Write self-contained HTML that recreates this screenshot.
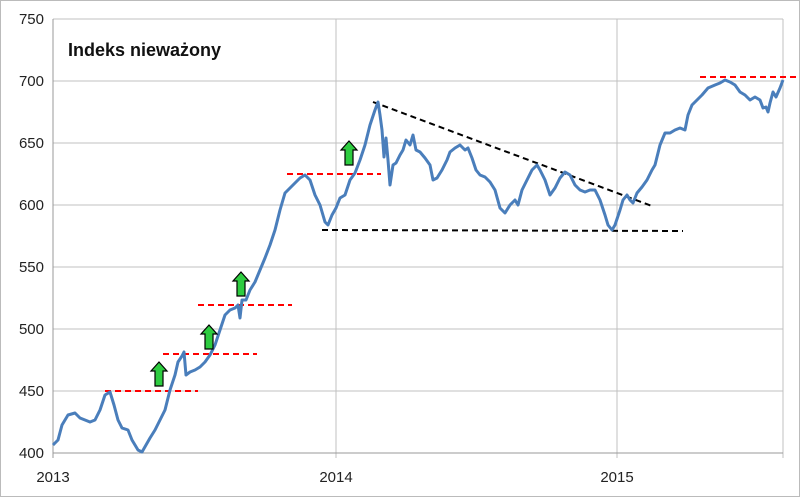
<!DOCTYPE html><html><head><meta charset="utf-8"><style>body{margin:0;background:#fff}svg{display:block}</style></head><body>
<svg width="800" height="497" viewBox="0 0 800 497" font-family="Liberation Sans, sans-serif">
<rect x="0.5" y="0.5" width="799" height="496" fill="#fff" stroke="#bbb"/>
<g stroke="#c0c0c0" stroke-width="1">
<line x1="53" y1="19" x2="783" y2="19"/><line x1="53" y1="81" x2="783" y2="81"/><line x1="53" y1="143" x2="783" y2="143"/><line x1="53" y1="205" x2="783" y2="205"/><line x1="53" y1="267" x2="783" y2="267"/><line x1="53" y1="329" x2="783" y2="329"/><line x1="53" y1="391" x2="783" y2="391"/>
<line x1="336" y1="19" x2="336" y2="458"/><line x1="617" y1="19" x2="617" y2="458"/><line x1="783" y1="19" x2="783" y2="458"/>
</g>
<g stroke="#999"><line x1="53" y1="19" x2="53" y2="458"/><line x1="53" y1="453" x2="783" y2="453"/></g>
<g font-size="15" fill="#222" text-anchor="end">
<text x="44" y="24">750</text><text x="44" y="86">700</text><text x="44" y="148">650</text><text x="44" y="210">600</text><text x="44" y="272">550</text><text x="44" y="334">500</text><text x="44" y="396">450</text><text x="44" y="458">400</text></g>
<g font-size="15" fill="#222" text-anchor="middle"><text x="53" y="482">2013</text><text x="336" y="482">2014</text><text x="617" y="482">2015</text></g>
<text x="68" y="56" font-size="18" font-weight="bold" fill="#111">Indeks nieważony</text>
<g stroke="#f00" stroke-width="2" stroke-dasharray="6,4">
<line x1="105" y1="391" x2="198" y2="391"/><line x1="163" y1="354" x2="257" y2="354"/><line x1="198" y1="305" x2="292" y2="305"/><line x1="287" y1="174" x2="381" y2="174"/><line x1="700" y1="77" x2="797" y2="77"/></g>
<g stroke="#000" stroke-width="2" stroke-dasharray="6,4">
<line x1="373" y1="102" x2="652" y2="206"/><line x1="322" y1="230" x2="683" y2="231"/></g>
<polyline fill="none" stroke="#4a7ebb" stroke-width="3" stroke-linejoin="round" points="53,445 58,440 62,425 68,415 75,413 80,418 85,420 90,422 95,420 100,410 105,395 110,392 114,405 118,420 122,428 128,430 132,440 138,450 142,452 146,445 150,438 155,430 160,420 165,410 170,390 175,375 178,362 182,356 184,352 186,375 190,372 195,370 200,367 205,362 210,355 215,345 220,330 225,315 230,310 235,308 238,305 240,318 242,300 246,300 250,290 255,282 260,270 265,258 270,245 275,230 280,210 285,193 290,188 295,183 300,178 305,175 310,180 315,195 320,205 325,222 328,225 332,215 336,208 340,198 345,195 350,180 355,173 360,160 365,145 370,125 375,110 378,102 380,115 382,130 384,157 386,138 388,160 390,185 393,165 396,163 400,155 403,150 406,140 410,145 413,135 416,150 420,152 425,158 430,165 433,180 437,178 442,170 447,160 450,152 455,148 460,145 465,150 468,148 472,158 476,170 480,175 485,177 490,182 495,190 500,208 505,213 510,205 515,200 518,205 522,190 527,180 532,170 537,165 540,170 545,180 550,195 555,188 560,178 565,172 570,175 575,185 580,190 585,192 590,190 595,190 600,200 605,215 608,225 612,230 615,225 620,210 623,200 627,195 630,200 633,203 637,193 642,187 647,180 652,170 655,165 660,145 665,133 670,133 675,130 680,128 685,130 688,115 692,105 697,100 702,95 708,88 715,85 720,83 725,80 730,82 735,85 740,92 745,95 750,100 755,97 760,100 763,108 766,107 768,112 770,103 773,92 776,97 780,88 783,80"/>
<g fill="#2ecc40" stroke="#000" stroke-width="1.2">
<path d="M159,362 l-8,9 h4 v15 h8 v-15 h4 z"/>
<path d="M209,325 l-8,9 h4 v15 h8 v-15 h4 z"/>
<path d="M241,272 l-8,9 h4 v15 h8 v-15 h4 z"/>
<path d="M349,141 l-8,9 h4 v15 h8 v-15 h4 z"/>
</g>
</svg></body></html>
